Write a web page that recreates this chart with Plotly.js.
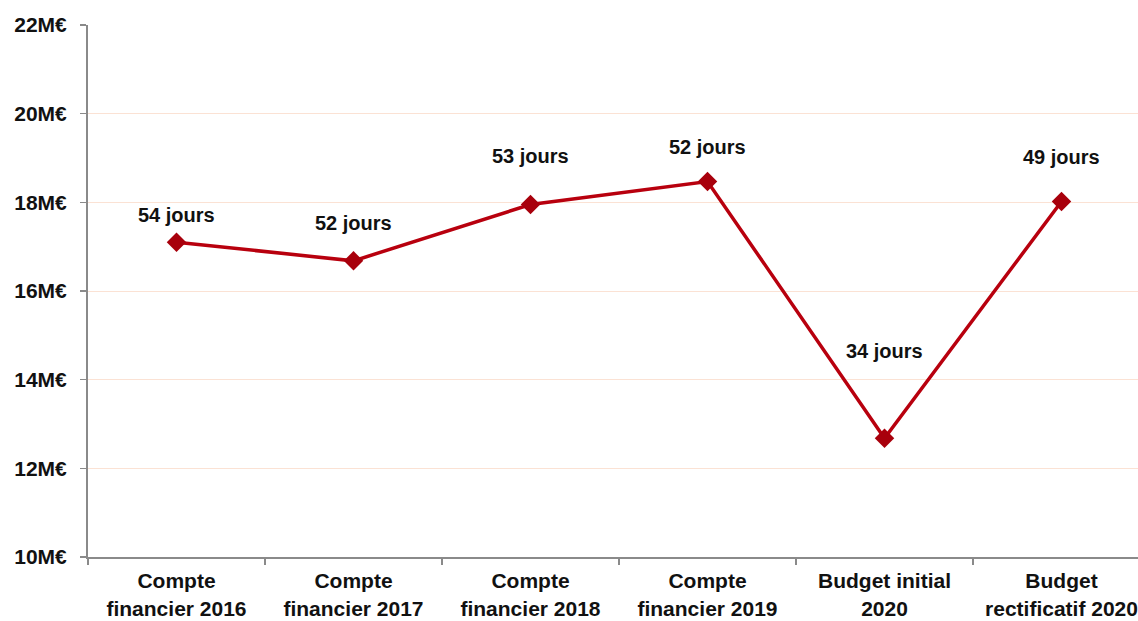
<!DOCTYPE html>
<html>
<head>
<meta charset="utf-8">
<script src="https://cdn.plot.ly/plotly-3.0.1.min.js"></script>
<style>
html,body{margin:0;padding:0;overflow:hidden;background:#fff;}
#chart{width:1152px;height:621px;}
</style>
</head>
<body>
<div id="chart"></div>
<script>
const categories = ["Compte<br>financier 2016","Compte<br>financier 2017","Compte<br>financier 2018","Compte<br>financier 2019","Budget initial<br>2020","Budget<br>rectificatif 2020"];
const values = [17.1, 16.68, 17.95, 18.47, 12.68, 18.02];
const dayLabels = ["54 jours","52 jours","53 jours","52 jours","34 jours","49 jours"];
const labelShift = [27, 38, 49, 35, 87, 44];
const yTicks = [10, 12, 14, 16, 18, 20, 22];
const yTickText = ["10M€","12M€","14M€","16M€","18M€","20M€","22M€"];

const trace = {
  x: categories,
  y: values,
  type: "scatter",
  mode: "lines+markers",
  line: {color: "#b8000e", width: 3.5},
  marker: {symbol: "diamond", size: 15, color: "#a8000c"},
  hoverinfo: "skip"
};

const annotations = categories.map((c, i) => ({
  x: c, y: values[i], xref: "x", yref: "y",
  text: dayLabels[i], showarrow: false,
  yshift: labelShift[i],
  font: {family: "Liberation Sans, Arial, sans-serif", size: 20, color: "#111", weight: "bold"}
}));

const layout = {
  width: 1152, height: 621,
  margin: {l: 88, r: 2, t: 25, b: 64},
  paper_bgcolor: "#fff", plot_bgcolor: "#fff",
  showlegend: false,
  font: {family: "Liberation Sans, Arial, sans-serif", color: "#111"},
  xaxis: {
    type: "category",
    range: [-0.5, 5.5],
    showline: true, linecolor: "#8a8a8a", linewidth: 2,
    showgrid: false, zeroline: false,
    ticks: "outside", tickson: "boundaries", ticklen: 6, tickcolor: "#8a8a8a", tickwidth: 1.5,
    ticklabelstandoff: 4,
    tickfont: {size: 21, color: "#111", weight: "bold"}
  },
  yaxis: {
    range: [10, 22],
    tickvals: yTicks, ticktext: yTickText,
    showline: true, linecolor: "#8a8a8a", linewidth: 2,
    showgrid: true, gridcolor: "#fbe2d4", gridwidth: 1,
    zeroline: false,
    ticks: "outside", ticklen: 6, tickcolor: "#8a8a8a", tickwidth: 1.5,
    ticklabelstandoff: 9,
    tickfont: {size: 21, color: "#111", weight: "bold"}
  },
  annotations: annotations
};

Plotly.newPlot("chart", [trace], layout, {displayModeBar: false, staticPlot: true});
</script>
</body>
</html>
